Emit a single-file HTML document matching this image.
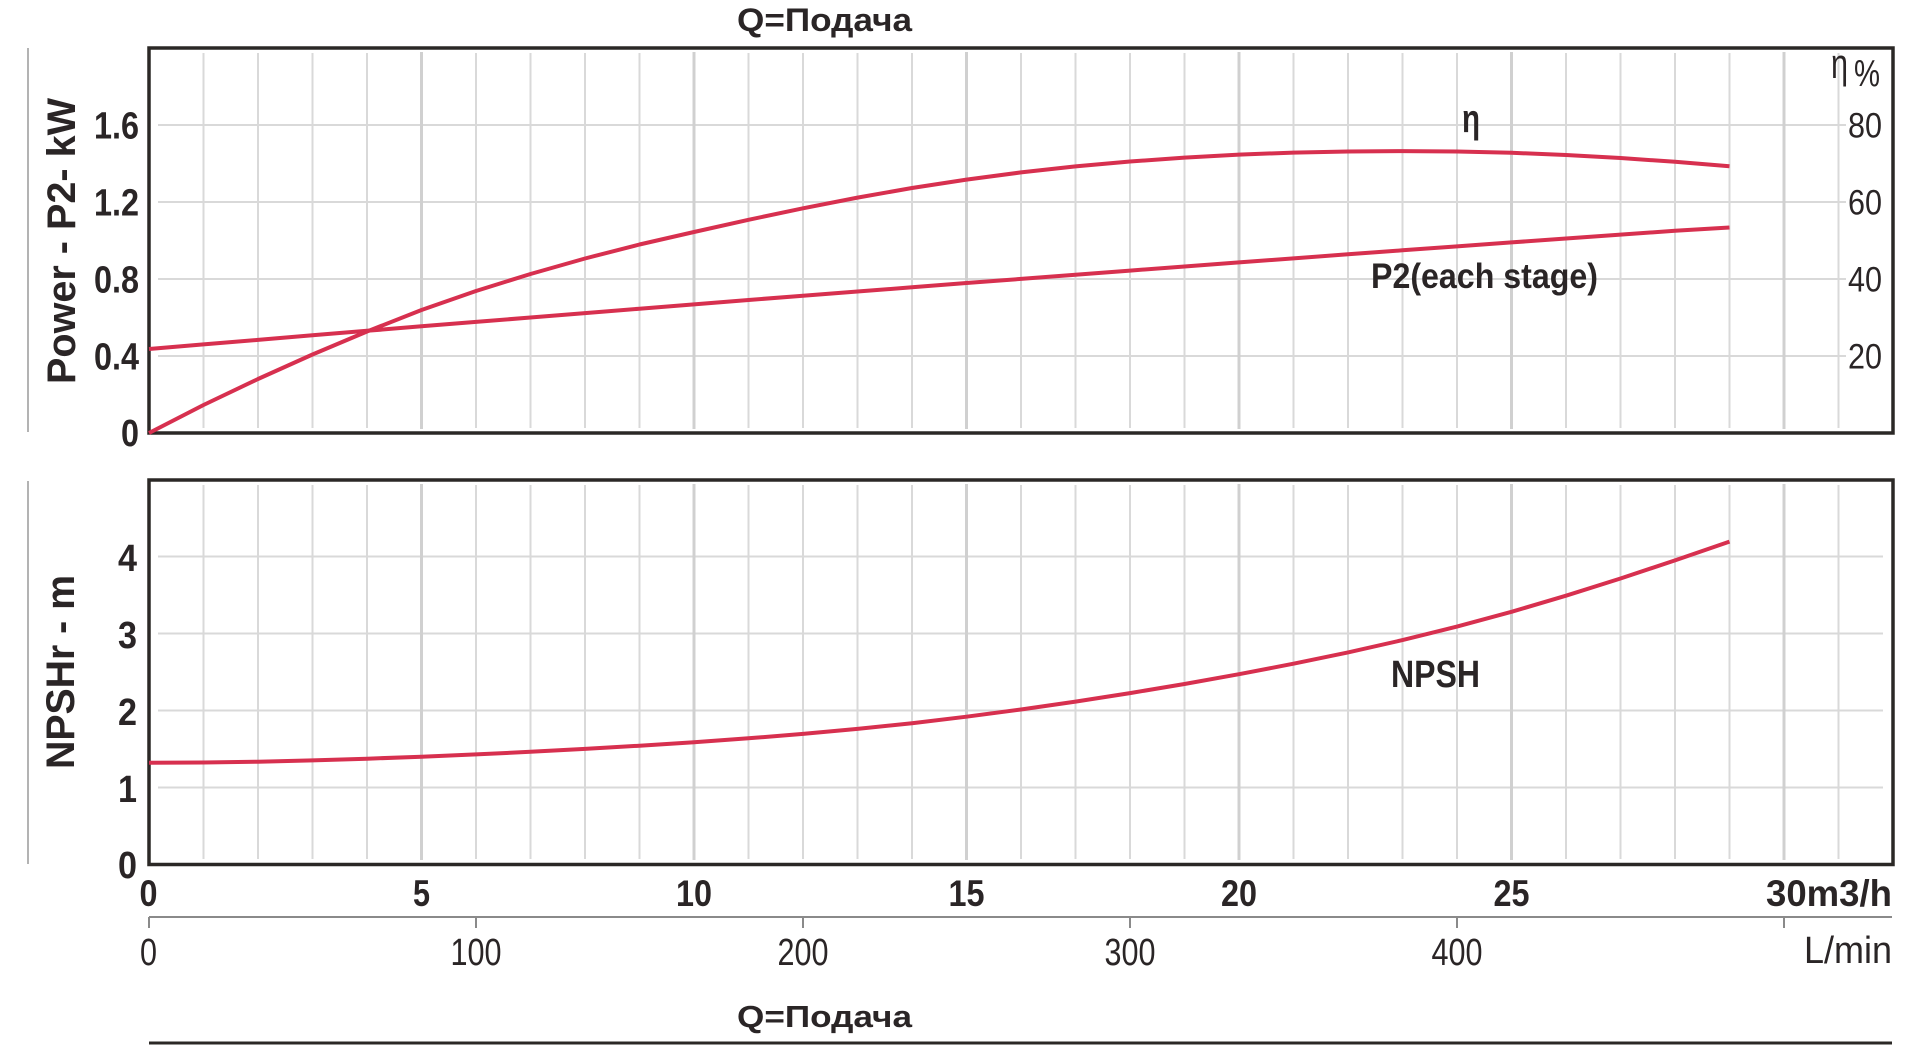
<!DOCTYPE html>
<html>
<head>
<meta charset="utf-8">
<style>
html,body{margin:0;padding:0;background:#ffffff;}
svg{display:block;}
text{font-family:"Liberation Sans",sans-serif;fill:#2a2526;}
.b{font-weight:bold;}
</style>
</head>
<body>
<svg width="1920" height="1056" viewBox="0 0 1920 1056" xmlns="http://www.w3.org/2000/svg">
<rect x="0" y="0" width="1920" height="1056" fill="#ffffff"/>

<!-- Titles -->
<text class="b" x="737" y="31" font-size="32" textLength="175" lengthAdjust="spacingAndGlyphs">Q=Подача</text>
<text class="b" x="737" y="1027" font-size="31" textLength="175" lengthAdjust="spacingAndGlyphs">Q=Подача</text>

<!-- left thin lines -->
<line x1="28" y1="48" x2="28" y2="432" stroke="#9a9a9a" stroke-width="1.5"/>
<line x1="28" y1="481" x2="28" y2="864" stroke="#9a9a9a" stroke-width="1.5"/>

<!-- ===== TOP PLOT GRID ===== -->
<g stroke="#d9d9d9" stroke-width="2">
<line x1="203.5" y1="53" x2="203.5" y2="428"/>
<line x1="258" y1="53" x2="258" y2="428"/>
<line x1="312.5" y1="53" x2="312.5" y2="428"/>
<line x1="367" y1="53" x2="367" y2="428"/>
<line x1="476" y1="53" x2="476" y2="428"/>
<line x1="530.5" y1="53" x2="530.5" y2="428"/>
<line x1="585" y1="53" x2="585" y2="428"/>
<line x1="639.5" y1="53" x2="639.5" y2="428"/>
<line x1="748.5" y1="53" x2="748.5" y2="428"/>
<line x1="803" y1="53" x2="803" y2="428"/>
<line x1="857.5" y1="53" x2="857.5" y2="428"/>
<line x1="912" y1="53" x2="912" y2="428"/>
<line x1="1021" y1="53" x2="1021" y2="428"/>
<line x1="1075.5" y1="53" x2="1075.5" y2="428"/>
<line x1="1130" y1="53" x2="1130" y2="428"/>
<line x1="1184.5" y1="53" x2="1184.5" y2="428"/>
<line x1="1293.5" y1="53" x2="1293.5" y2="428"/>
<line x1="1348" y1="53" x2="1348" y2="428"/>
<line x1="1402.5" y1="53" x2="1402.5" y2="428"/>
<line x1="1457" y1="53" x2="1457" y2="428"/>
<line x1="1566" y1="53" x2="1566" y2="428"/>
<line x1="1620.5" y1="53" x2="1620.5" y2="428"/>
<line x1="1675" y1="53" x2="1675" y2="428"/>
<line x1="1729.5" y1="53" x2="1729.5" y2="428"/>
<line x1="1838.5" y1="53" x2="1838.5" y2="428"/>
<line x1="158" y1="125" x2="1846" y2="125"/>
<line x1="158" y1="202" x2="1846" y2="202"/>
<line x1="158" y1="279" x2="1846" y2="279"/>
<line x1="158" y1="356" x2="1846" y2="356"/>
</g>
<g stroke="#d0d0d0" stroke-width="3">
<line x1="421.5" y1="52" x2="421.5" y2="429"/>
<line x1="694" y1="52" x2="694" y2="429"/>
<line x1="966.5" y1="52" x2="966.5" y2="429"/>
<line x1="1239" y1="52" x2="1239" y2="429"/>
<line x1="1511.5" y1="52" x2="1511.5" y2="429"/>
<line x1="1784" y1="52" x2="1784" y2="429"/>
</g>

<!-- ===== BOTTOM PLOT GRID ===== -->
<g stroke="#d9d9d9" stroke-width="2">
<line x1="203.5" y1="485" x2="203.5" y2="859"/>
<line x1="258" y1="485" x2="258" y2="859"/>
<line x1="312.5" y1="485" x2="312.5" y2="859"/>
<line x1="367" y1="485" x2="367" y2="859"/>
<line x1="476" y1="485" x2="476" y2="859"/>
<line x1="530.5" y1="485" x2="530.5" y2="859"/>
<line x1="585" y1="485" x2="585" y2="859"/>
<line x1="639.5" y1="485" x2="639.5" y2="859"/>
<line x1="748.5" y1="485" x2="748.5" y2="859"/>
<line x1="803" y1="485" x2="803" y2="859"/>
<line x1="857.5" y1="485" x2="857.5" y2="859"/>
<line x1="912" y1="485" x2="912" y2="859"/>
<line x1="1021" y1="485" x2="1021" y2="859"/>
<line x1="1075.5" y1="485" x2="1075.5" y2="859"/>
<line x1="1130" y1="485" x2="1130" y2="859"/>
<line x1="1184.5" y1="485" x2="1184.5" y2="859"/>
<line x1="1293.5" y1="485" x2="1293.5" y2="859"/>
<line x1="1348" y1="485" x2="1348" y2="859"/>
<line x1="1402.5" y1="485" x2="1402.5" y2="859"/>
<line x1="1457" y1="485" x2="1457" y2="859"/>
<line x1="1566" y1="485" x2="1566" y2="859"/>
<line x1="1620.5" y1="485" x2="1620.5" y2="859"/>
<line x1="1675" y1="485" x2="1675" y2="859"/>
<line x1="1729.5" y1="485" x2="1729.5" y2="859"/>
<line x1="1838.5" y1="485" x2="1838.5" y2="859"/>
<line x1="158" y1="556.5" x2="1883" y2="556.5"/>
<line x1="158" y1="633.5" x2="1883" y2="633.5"/>
<line x1="158" y1="710.5" x2="1883" y2="710.5"/>
<line x1="158" y1="787.5" x2="1883" y2="787.5"/>
</g>
<g stroke="#d0d0d0" stroke-width="3">
<line x1="421.5" y1="484" x2="421.5" y2="860"/>
<line x1="694" y1="484" x2="694" y2="860"/>
<line x1="966.5" y1="484" x2="966.5" y2="860"/>
<line x1="1239" y1="484" x2="1239" y2="860"/>
<line x1="1511.5" y1="484" x2="1511.5" y2="860"/>
<line x1="1784" y1="484" x2="1784" y2="860"/>
</g>

<!-- borders -->
<rect x="149" y="48" width="1744" height="385" fill="none" stroke="#2b2826" stroke-width="3.5"/>
<rect x="149" y="480" width="1744" height="384.5" fill="none" stroke="#2b2826" stroke-width="3.5"/>

<!-- curves -->
<g fill="none" stroke="#d7304f" stroke-width="4" stroke-linejoin="round">
<polyline points="149,433 203.5,405 258,379 312.5,354.5 367,331.5 421.5,310 476,291 530.5,274 585,258.5 639.5,244.5 694,232 748.5,219.8 803,208.3 857.5,197.6 912,188 966.5,179.6 1021,172.4 1075.5,166.4 1130,161.5 1184.5,157.6 1239,154.6 1293.5,152.6 1348,151.5 1402.5,151.1 1457,151.5 1511.5,152.8 1566,155 1620.5,158 1675,161.8 1729.5,166.3"/>
<polyline points="149,349 203.5,344.4 258,339.9 312.5,335.3 367,330.8 421.5,326.3 476,321.9 530.5,317.5 585,313.1 639.5,308.7 694,304.4 748.5,300 803,295.7 857.5,291.5 912,287.3 966.5,283 1021,278.9 1075.5,274.7 1130,270.6 1184.5,266.5 1239,262.4 1293.5,258.4 1348,254.3 1402.5,250.3 1457,246.4 1511.5,242.4 1566,238.5 1620.5,234.6 1675,230.8 1729.5,227.5"/>
<polyline points="149,762.7 203.5,762.5 258,761.7 312.5,760.4 367,758.7 421.5,756.7 476,754.4 530.5,751.8 585,748.9 639.5,745.7 694,742.2 748.5,738.3 803,733.9 857.5,728.9 912,723.2 966.5,716.7 1021,709.5 1075.5,701.6 1130,693.1 1184.5,684 1239,674.2 1293.5,663.7 1348,652.4 1402.5,640.1 1457,626.6 1511.5,611.8 1566,595.7 1620.5,578.5 1675,560.4 1729.5,541.6"/>
</g>

<!-- curve labels -->
<text class="b" x="1462" y="132" font-size="40" textLength="18" lengthAdjust="spacingAndGlyphs">η</text>
<text class="b" x="1371" y="288" font-size="35" textLength="227" lengthAdjust="spacingAndGlyphs">P2(each stage)</text>
<text class="b" x="1391" y="687" font-size="38" textLength="89" lengthAdjust="spacingAndGlyphs">NPSH</text>

<!-- Y axis titles -->
<text class="b" font-size="40" text-anchor="middle" textLength="286" lengthAdjust="spacingAndGlyphs" transform="translate(75,241) rotate(-90)">Power - P2- kW</text>
<text class="b" font-size="40" text-anchor="middle" textLength="194" lengthAdjust="spacingAndGlyphs" transform="translate(74,672) rotate(-90)">NPSHr - m</text>

<!-- left tick labels top -->
<g font-size="38" text-anchor="end">
<text class="b" x="139" y="138.5" textLength="45" lengthAdjust="spacingAndGlyphs">1.6</text>
<text class="b" x="139" y="215.5" textLength="45" lengthAdjust="spacingAndGlyphs">1.2</text>
<text class="b" x="139" y="292.5" textLength="45" lengthAdjust="spacingAndGlyphs">0.8</text>
<text class="b" x="139" y="369.5" textLength="45" lengthAdjust="spacingAndGlyphs">0.4</text>
<text class="b" x="139" y="446" textLength="18" lengthAdjust="spacingAndGlyphs">0</text>
</g>
<!-- left tick labels bottom -->
<g font-size="38" text-anchor="end">
<text class="b" x="137" y="571" textLength="19" lengthAdjust="spacingAndGlyphs">4</text>
<text class="b" x="137" y="648" textLength="19" lengthAdjust="spacingAndGlyphs">3</text>
<text class="b" x="137" y="725" textLength="19" lengthAdjust="spacingAndGlyphs">2</text>
<text class="b" x="137" y="802" textLength="19" lengthAdjust="spacingAndGlyphs">1</text>
<text class="b" x="137" y="878" textLength="19" lengthAdjust="spacingAndGlyphs">0</text>
</g>

<!-- right eta labels -->
<text x="1831" y="78" font-size="42" textLength="17" lengthAdjust="spacingAndGlyphs">η</text>
<text x="1854" y="86" font-size="38" textLength="26" lengthAdjust="spacingAndGlyphs">%</text>
<g font-size="35" text-anchor="end">
<text x="1882" y="137.5" textLength="34" lengthAdjust="spacingAndGlyphs">80</text>
<text x="1882" y="214.5" textLength="34" lengthAdjust="spacingAndGlyphs">60</text>
<text x="1882" y="291.5" textLength="34" lengthAdjust="spacingAndGlyphs">40</text>
<text x="1882" y="368.5" textLength="34" lengthAdjust="spacingAndGlyphs">20</text>
</g>

<!-- x labels m3/h -->
<g font-size="37" text-anchor="middle">
<text class="b" x="148.5" y="906" textLength="18" lengthAdjust="spacingAndGlyphs">0</text>
<text class="b" x="421.5" y="906" textLength="17" lengthAdjust="spacingAndGlyphs">5</text>
<text class="b" x="694" y="906" textLength="36" lengthAdjust="spacingAndGlyphs">10</text>
<text class="b" x="966.5" y="906" textLength="36" lengthAdjust="spacingAndGlyphs">15</text>
<text class="b" x="1239" y="906" textLength="36" lengthAdjust="spacingAndGlyphs">20</text>
<text class="b" x="1511.5" y="906" textLength="36" lengthAdjust="spacingAndGlyphs">25</text>
</g>
<text class="b" x="1766" y="906" font-size="37" textLength="126" lengthAdjust="spacingAndGlyphs">30m3/h</text>

<!-- L/min axis -->
<g stroke="#8a8a8a" stroke-width="2">
<line x1="149" y1="917" x2="1892" y2="917"/>
<line x1="149" y1="917" x2="149" y2="928"/>
<line x1="476" y1="917" x2="476" y2="928"/>
<line x1="803" y1="917" x2="803" y2="928"/>
<line x1="1130" y1="917" x2="1130" y2="928"/>
<line x1="1457" y1="917" x2="1457" y2="928"/>
<line x1="1784" y1="917" x2="1784" y2="928"/>
</g>
<g font-size="38" text-anchor="middle">
<text x="148.5" y="965" textLength="17" lengthAdjust="spacingAndGlyphs">0</text>
<text x="476" y="965" textLength="51" lengthAdjust="spacingAndGlyphs">100</text>
<text x="803" y="965" textLength="51" lengthAdjust="spacingAndGlyphs">200</text>
<text x="1130" y="965" textLength="51" lengthAdjust="spacingAndGlyphs">300</text>
<text x="1457" y="965" textLength="51" lengthAdjust="spacingAndGlyphs">400</text>
</g>
<text x="1804" y="963" font-size="38" textLength="88" lengthAdjust="spacingAndGlyphs">L/min</text>

<!-- bottom line -->
<line x1="149" y1="1043" x2="1892" y2="1043" stroke="#2b2826" stroke-width="3"/>
</svg>
</body>
</html>
